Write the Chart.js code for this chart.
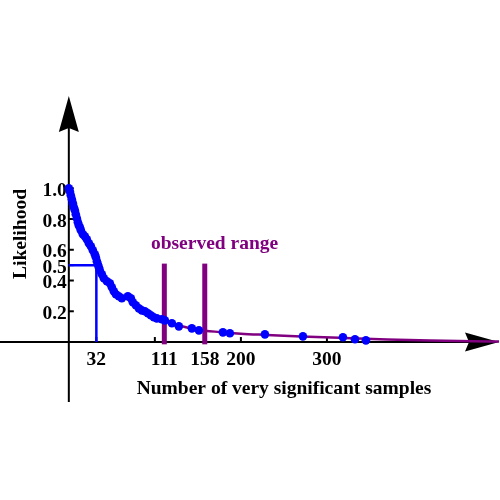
<!DOCTYPE html>
<html>
<head>
<meta charset="utf-8">
<script src="https://cdn.jsdelivr.net/npm/chart.js@4.4.1/dist/chart.umd.min.js"></script>
<style>
  body { margin: 0; background: #fff; }
  #mycanvas { display: block; }
</style>
</head>
<body>
<canvas id="mycanvas" width="500" height="500"></canvas>
<script>
// sample points (x = number of very significant samples, y = likelihood)
var sampleX = [0, 1.2, 2.3, 3.5, 4.7, 5.8, 7, 8.1, 9.3, 10.5, 11.6, 12.8, 14, 16.3, 18.6, 20.9, 23.3, 25.6, 27.9, 30.2,
  31.4, 32.6, 33.7, 34.9, 36, 38.4, 40.7, 44.2, 47.7, 50, 52.3, 54.7, 58.1, 61.6, 68.6, 72.1, 74.4, 77.9, 81.4, 84.9,
  88.4, 91.9, 95.3, 98.8, 102.3, 108.1, 111.6, 119.8, 127.9, 143, 151.2, 179.1, 187.2, 227.9, 272.1, 318.6, 332.6, 345.3];
var sampleY = [1, 0.98, 0.954, 0.928, 0.902, 0.876, 0.857, 0.831, 0.805, 0.779, 0.759, 0.746, 0.727, 0.701, 0.688, 0.668, 0.642, 0.623, 0.597, 0.571,
  0.551, 0.525, 0.506, 0.486, 0.467, 0.441, 0.415, 0.395, 0.382, 0.356, 0.33, 0.311, 0.298, 0.285, 0.298, 0.285, 0.259, 0.239, 0.219, 0.206,
  0.2, 0.187, 0.174, 0.161, 0.154, 0.148, 0.141, 0.122, 0.102, 0.089, 0.076, 0.063, 0.057, 0.05, 0.037, 0.031, 0.018, 0.011];

// fitted curve
var curveX = [0, 5, 10, 15, 20, 25, 30, 35, 40, 45, 50, 55, 60, 70, 80, 90, 100, 110, 120, 135, 150, 175, 200, 230, 270, 320, 370, 420, 470, 500];
var curveY = [1, 0.89, 0.79, 0.715, 0.665, 0.625, 0.57, 0.49, 0.43, 0.39, 0.355, 0.315, 0.29, 0.275, 0.225, 0.19, 0.162, 0.145, 0.122, 0.098,
  0.08, 0.065, 0.054, 0.046, 0.036, 0.026, 0.017, 0.01, 0.005, 0.003];

var rangeLow = 111, rangeHigh = 158, rangeTop = 0.51;
var halfX = 32, halfY = 0.5;

var xTickLabels = [32, 111, 158, 200, 300];
var xTickMarks = [32, 100, 111, 158, 200, 300];
var yTickLabels = [1.0, 0.8, 0.6, 0.5, 0.4, 0.2];

function pts(xs, ys) {
  var out = [];
  for (var i in xs) out.push({x: xs[i], y: ys[i]});
  return out;
}

var purple = '#800080';
var serif = 'bold 19.5px "Liberation Serif", "Times New Roman", serif';

var axesPlugin = {
  id: 'axes',
  beforeDatasetsDraw: function(chart) {
    var c = chart.ctx, a = chart.chartArea;
    var sx = chart.scales.x, sy = chart.scales.y;
    var x0 = sx.getPixelForValue(0), y0 = sy.getPixelForValue(0);
    c.save();
    c.strokeStyle = '#000';
    c.fillStyle = '#000';
    c.lineWidth = 2;
    // x axis
    c.beginPath(); c.moveTo(a.left, y0); c.lineTo(a.right - 30, y0); c.stroke();
    // y axis
    c.beginPath(); c.moveTo(x0, a.bottom); c.lineTo(x0, a.top + 30); c.stroke();
    // arrow heads
    c.beginPath();
    c.moveTo(a.right, y0); c.lineTo(a.right - 34, y0 - 9.5); c.lineTo(a.right - 30, y0); c.lineTo(a.right - 34, y0 + 9.5);
    c.closePath(); c.fill();
    c.beginPath();
    c.moveTo(x0, a.top); c.lineTo(x0 + 10, a.top + 36); c.lineTo(x0, a.top + 32); c.lineTo(x0 - 10, a.top + 36);
    c.closePath(); c.fill();
    // tick marks
    c.lineWidth = 2;
    xTickMarks.forEach(function(v) {
      var px = sx.getPixelForValue(v);
      c.beginPath(); c.moveTo(px, y0); c.lineTo(px, y0 - 5); c.stroke();
    });
    yTickLabels.forEach(function(v) {
      var py = sy.getPixelForValue(v);
      c.beginPath(); c.moveTo(x0, py); c.lineTo(x0 + 5, py); c.stroke();
    });
    // tick labels
    c.font = serif;
    c.textAlign = 'center';
    c.textBaseline = 'alphabetic';
    xTickLabels.forEach(function(v) {
      c.fillText(String(v), sx.getPixelForValue(v), y0 + 23);
    });
    c.textAlign = 'right';
    yTickLabels.forEach(function(v) {
      c.fillText(v.toFixed(1), x0 - 2, sy.getPixelForValue(v) + 7.5);
    });
    // axis titles
    c.textAlign = 'center';
    c.fillText('Number of very significant samples', 284, 394);
    c.save();
    c.translate(26, 234);
    c.rotate(-Math.PI / 2);
    c.fillText('Likelihood', 0, 0);
    c.restore();
    // annotation
    c.fillStyle = purple;
    c.fillText('observed range', sx.getPixelForValue((rangeLow + rangeHigh) / 2) + 30, 249);
    c.restore();
  }
};

var ctx = document.getElementById('mycanvas');

var chart = new Chart(ctx, {
  type: 'scatter',
  data: {
    datasets: [
      {
        label: 'samples',
        data: pts(sampleX, sampleY),
        backgroundColor: '#0000ff',
        borderColor: '#0000ff',
        pointRadius: 4.3,
        borderWidth: 0,
        showLine: false,
        order: 0
      },
      {
        label: 'half',
        data: [{x: 0, y: halfY}, {x: halfX, y: halfY}, {x: halfX, y: 0}],
        borderColor: '#0000ff',
        borderWidth: 2.5,
        pointRadius: 0,
        showLine: true,
        order: 1
      },
      {
        label: 'low',
        data: [{x: rangeLow, y: -0.015}, {x: rangeLow, y: rangeTop}],
        borderColor: purple,
        borderWidth: 5,
        pointRadius: 0,
        showLine: true,
        order: 2
      },
      {
        label: 'high',
        data: [{x: rangeHigh, y: -0.015}, {x: rangeHigh, y: rangeTop}],
        borderColor: purple,
        borderWidth: 5,
        pointRadius: 0,
        showLine: true,
        order: 2
      },
      {
        label: 'fit',
        data: pts(curveX, curveY),
        borderColor: purple,
        borderWidth: 2.5,
        pointRadius: 0,
        showLine: true,
        cubicInterpolationMode: 'monotone',
        order: 3
      }
    ]
  },
  options: {
    responsive: false,
    animation: false,
    layout: { autoPadding: false, padding: { left: 0, right: 1, top: 96, bottom: 98 } },
    scales: {
      x: { type: 'linear', min: -80, max: 500, display: false },
      y: { type: 'linear', min: -0.39, max: 1.6, display: false }
    },
    plugins: { legend: { display: false }, tooltip: { enabled: false } }
  },
  plugins: [axesPlugin]
});
</script>
</body>
</html>
